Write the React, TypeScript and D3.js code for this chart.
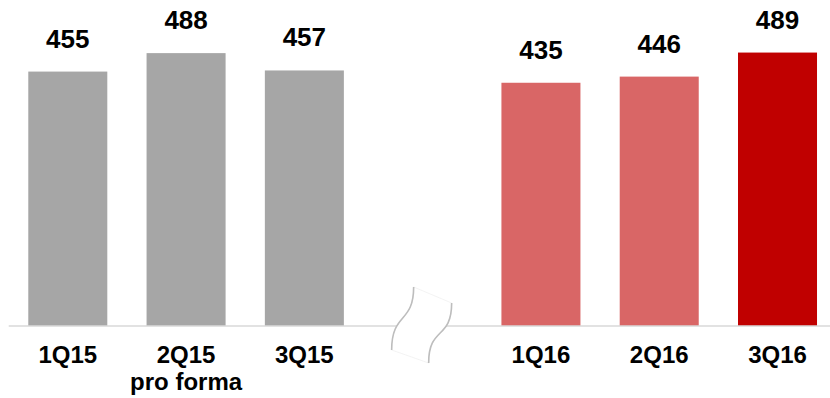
import React from "react";
import * as d3 from "d3";

const categories = ["1Q15", "2Q15", "3Q15", "", "1Q16", "2Q16", "3Q16"];
const subLabels = ["", "pro forma", "", "", "", "", ""];
const values: (number | null)[] = [455, 488, 457, null, 435, 446, 489];
const colors = ["#a6a6a6", "#a6a6a6", "#a6a6a6", "none", "#d96666", "#d96666", "#c00000"];

const W = 830;
const H = 398;

export default function App() {
  const x = d3
    .scaleBand<string>()
    .domain(categories.map((c, i) => String(i)))
    .range([8.65, 836.65])
    .paddingInner(0.332)
    .paddingOuter(0.166);
  const y = d3.scaleLinear().domain([0, 583]).range([326, 0]);
  const bw = x.bandwidth();
  const font = "'Liberation Sans', Arial, sans-serif";

  const gapIdx = categories.indexOf("");
  const gx = (x(String(gapIdx)) as number) + bw / 2; // ~422
  const gy = y(0);
  const lc = `M${gx - 9},${gy - 39} C${gx - 9},${gy - 2} ${gx - 31},${gy - 14} ${gx - 31},${gy + 24}`;
  const rc = `M${gx + 29},${gy - 23} C${gx + 29},${gy + 14} ${gx + 6},${gy} ${gx + 6},${gy + 37}`;
  const fillPath = `${lc} L${gx + 6},${gy + 37} C${gx + 6},${gy} ${gx + 29},${gy + 14} ${gx + 29},${gy - 23} Z`;

  return (
    <svg
      width={W}
      height={H}
      style={{ position: "absolute", left: 0, top: 0, background: "#fff" }}
      fontFamily={font}
    >
      {values.map((v, i) =>
        v == null ? null : (
          <rect
            key={"b" + i}
            x={x(String(i))}
            y={y(v)}
            width={bw}
            height={y(0) - y(v)}
            fill={colors[i]}
          />
        )
      )}
      <line x1={8.7} x2={W} y1={y(0)} y2={y(0)} stroke="#d9d9d9" strokeWidth={1.5} />
      {/* axis break */}
      <path d={fillPath} fill="#fff" stroke="#f0f0f0" strokeWidth={0.8} />
      <path d={lc} fill="none" stroke="#bdbdbd" strokeWidth={1.6} />
      <path d={rc} fill="none" stroke="#bdbdbd" strokeWidth={1.6} />
      {values.map((v, i) =>
        v == null ? null : (
          <text
            key={"v" + i}
            x={(x(String(i)) as number) + bw / 2}
            y={y(v) - 24}
            textAnchor="middle"
            fontSize={26}
            fontWeight="bold"
            fill="#000"
          >
            {v}
          </text>
        )
      )}
      {categories.map((c, i) =>
        c === "" ? null : (
          <text
            key={"c" + i}
            x={(x(String(i)) as number) + bw / 2}
            y={362.7}
            textAnchor="middle"
            fontSize={24}
            fontWeight="bold"
            fill="#000"
          >
            {c}
            {subLabels[i] ? (
              <tspan x={(x(String(i)) as number) + bw / 2} dy={27}>
                {subLabels[i]}
              </tspan>
            ) : null}
          </text>
        )
      )}
    </svg>
  );
}
